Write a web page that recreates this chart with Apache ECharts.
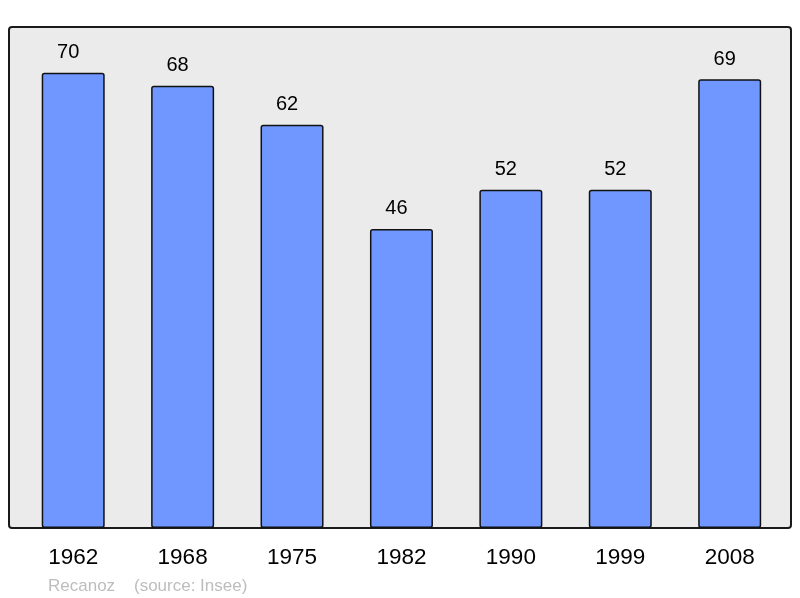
<!DOCTYPE html>
<html>
<head>
<meta charset="utf-8">
<script src="https://cdn.jsdelivr.net/npm/echarts@6/dist/echarts.min.js"></script>
<style>html,body{margin:0;padding:0;background:#fff;}#c{width:800px;height:598px;}</style>
</head>
<body>
<div id="c"></div>
<script>
var years = ['1962', '1968', '1975', '1982', '1990', '1999', '2008'];
var population = [70, 68, 62, 46, 52, 52, 69];
var footerText = 'Recanoz    (source: Insee)';

var chart = echarts.init(document.getElementById('c'), null, {renderer: 'canvas'});
chart.setOption({
  animation: false,
  backgroundColor: '#ffffff',
  graphic: [
    {type: 'rect', z: -10, shape: {x: 9, y: 27, width: 782, height: 501, r: 3},
     style: {fill: '#ebebeb', stroke: '#1a1a1a', lineWidth: 2}},
    {type: 'text', left: 48, top: 578,
     style: {text: footerText, fill: '#bdbdbd', font: '17px "Liberation Sans", Arial, sans-serif'}}
  ],
  grid: {left: 18.5, right: 15.6, top: 26, bottom: 70, containLabel: false},
  xAxis: {
    type: 'category', data: years,
    axisLine: {show: false}, axisTick: {show: false},
    axisLabel: {color: '#000', fontSize: 22.5, fontFamily: '"Liberation Sans", Arial, sans-serif', margin: 18}
  },
  yAxis: {
    type: 'value', min: 0, max: 77.2, show: false, splitLine: {show: false}
  },
  series: [{
    type: 'bar', data: population, barWidth: 63,
    itemStyle: {color: '#7097ff', borderColor: '#111', borderWidth: 1.5, borderRadius: 2},
    label: {show: true, position: 'top', distance: 10, offset: [-5, 0], color: '#000', fontSize: 20,
            fontFamily: '"Liberation Sans", Arial, sans-serif'}
  }]
});
</script>
</body>
</html>
